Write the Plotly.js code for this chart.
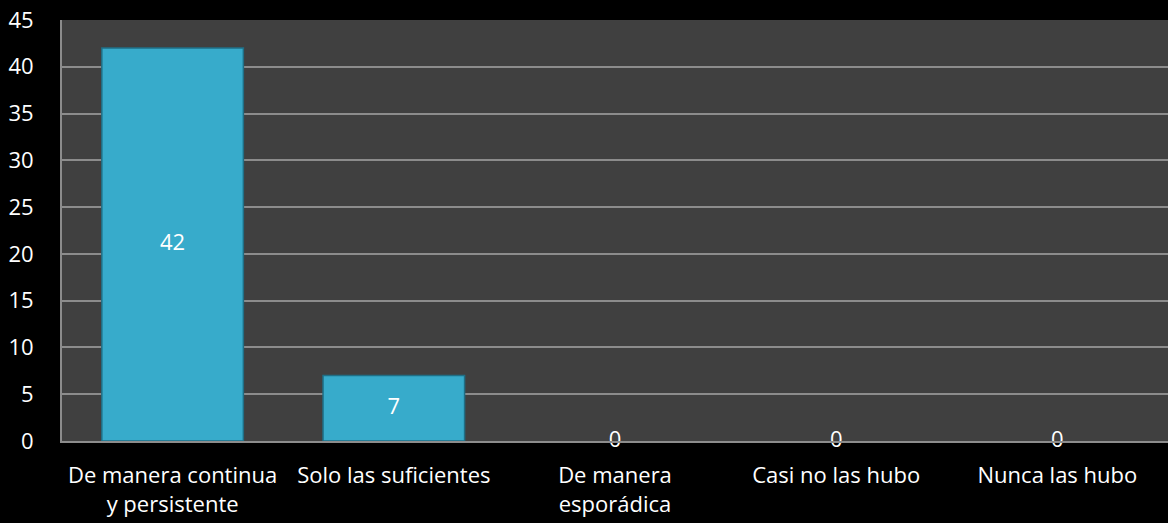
<!DOCTYPE html>
<html>
<head>
<meta charset="utf-8">
<script src="https://cdn.plot.ly/plotly-3.0.1.min.js"></script>
<style>html,body{margin:0;padding:0;background:#000;}#chart{width:1168px;height:523px;}</style>
</head>
<body>
<div id="chart"></div>
<script>
var categories = ["De manera continua<br>y persistente", "Solo las suficientes", "De manera<br>esporádica", "Casi no las hubo", "Nunca las hubo"];
var values = [42, 7, 0, 0, 0];
var yTicks = [0, 5, 10, 15, 20, 25, 30, 35, 40, 45];

var labelY = values.map(function(v){ return v / 2; });

var bars = {
  type: 'bar',
  x: categories,
  y: values,
  width: 0.64,
  marker: {color: '#37abcb', line: {color: '#1f6f86', width: values.map(function(v){ return v > 0 ? 1.5 : 0; })}},
  hoverinfo: 'skip'
};
var labels = {
  type: 'scatter',
  mode: 'text',
  x: categories,
  y: labelY,
  text: values.map(String),
  textposition: 'middle center',
  textfont: {color: '#ffffff', size: 22, family: 'Open Sans'},
  hoverinfo: 'skip',
  cliponaxis: false
};

var layout = {
  width: 1168, height: 523,
  paper_bgcolor: '#000000',
  plot_bgcolor: '#404040',
  margin: {l: 62, r: 0, t: 20, b: 82},
  showlegend: false,
  font: {family: 'Open Sans', color: '#ffffff', size: 22},
  xaxis: {
    type: 'category',
    showgrid: false,
    showline: true, linecolor: '#8c8c8c', linewidth: 2,
    ticks: '', ticklabelstandoff: 14,
    tickfont: {size: 22, color: '#ffffff'}
  },
  yaxis: {
    range: [0, 45],
    tickvals: yTicks,
    ticktext: yTicks.map(String),
    showgrid: true, gridcolor: '#8c8c8c', gridwidth: 2,
    showline: true, linecolor: '#8c8c8c', linewidth: 2,
    zeroline: false,
    ticks: '', ticklabelstandoff: 22,
    tickfont: {size: 22, color: '#ffffff'}
  }
};

Plotly.newPlot('chart', [bars, labels], layout, {staticPlot: true});
</script>
</body>
</html>
